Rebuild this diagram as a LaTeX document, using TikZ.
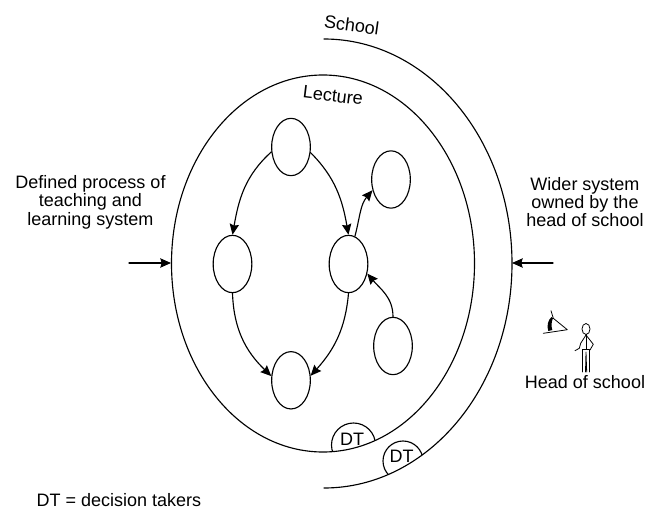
\documentclass[tikz,border=0pt]{standalone}
\usepackage{fontspec}
\setmainfont{Liberation Sans}
\usetikzlibrary{arrows.meta,shapes.geometric}
\tikzset{
	stage/.style={draw, ellipse, minimum width=29pt, minimum height=43pt, inner sep=0pt},
	label/.style={align=center, font=\fontsize{13.5}{13.8}\selectfont},
	flow/.style={-{Stealth[length=8pt,width=7pt,inset=1pt]}},
	figure/.style={line width=0.6pt},
}
\begin{document}
\begin{tikzpicture}[x=0.75pt, y=-0.75pt, line cap=round, line join=round, line width=0.85pt]
	\useasboundingbox (0,0) rectangle (661,510);
	
	% Lecture and school boundaries
	\draw (323,263.5) ellipse [x radius=151.5, y radius=188.5];
	\draw (324,39) arc [start angle=90, end angle=-90, x radius=188, y radius=-224.5];
	
	% Decision takers
	\begin{scope}
		\clip (323,263.5) ellipse [x radius=151.5, y radius=188.5];
		\draw (353.5,445) circle (22);
	\end{scope}
	\begin{scope}
		\clip (324,263.5) ellipse [x radius=188, y radius=224.5];
		\draw (403,461) circle (20);
	\end{scope}
	\node[label] (dtlecture) at (352,439) {DT};
	\node[label] (dtschool) at (401.7,456.7) {DT};
	
	% Process stages
	\node[stage] (top) at (291,147) {};
	\node[stage] (upper) at (391,179.5) {};
	\node[stage] (left) at (232.5,264) {};
	\node[stage] (mid) at (348.5,264) {};
	\node[stage] (lower) at (393,346) {};
	\node[stage] (bottom) at (291,380.3) {};
	
	% Flows between stages
	\draw[flow] (top.194) to[out=222, in=80] (left.north);
	\draw[flow] (top.-16) to[out=-45, in=100] (mid.north);
	\draw[flow] (mid.77) to[out=75, in=-130] (upper.210);
	\draw[flow] (lower.north) to[out=90, in=-50] (mid.-27);
	\draw[flow] (left.south) to[out=-88, in=136] (bottom.168);
	\draw[flow] (mid.south) to[out=-95, in=48] (bottom.13);
	
	% Boundary arrows
	\coordinate (inleft) at (129,263);
	\coordinate (edgeleft) at (171,263);
	\coordinate (inright) at (553,263);
	\coordinate (edgeright) at (512,263);
	\draw[flow] (inleft) -- (edgeleft);
	\draw[flow] (inright) -- (edgeright);
	
	% Head of school
	\draw[figure] (586,329) ellipse [x radius=4, y radius=5.5];
	\draw[figure] (586,334.5) -- (586,349);
	\draw[figure] (586,335) -- (580.7,343.3) -- (579.3,348.3) -- (575,350.7);
	\draw[figure] (586,335) -- (593.3,344.3) -- (590,350);
	\draw[figure] (582.7,372) -- (582.7,349) -- (589.5,349) -- (589.5,372);
	\draw[figure] (585.5,372) -- (586,352) -- (586.7,372);
	
	% Eye
	\draw[figure] (551,310.7) -- (553.3,318.3) -- (567.3,329.7) -- (543.3,333.3);
	\fill (551.5,317) .. controls (548,320) and (546.5,326) .. (548.3,331) -- (552.3,330) .. controls (551,326) and (551.5,321) .. (553,318.3) -- cycle;
	
	% Texts
	\node[label, rotate=-8] (school) at (351.7,25) {School};
	\node[label, rotate=-7] (lecture) at (333,95.5) {Lecture};
	\node[label] (defined) at (90.5,202) {Defined process of\\teaching and\\learning system};
	\node[label] (wider) at (585,202) {Wider system\\owned by the\\head of school};
	\node[label] (head) at (585,381.7) {Head of school};
	\node[label, anchor=base west, inner sep=0pt] (key) at (36,506) {DT = decision takers};
\end{tikzpicture}
\end{document}
